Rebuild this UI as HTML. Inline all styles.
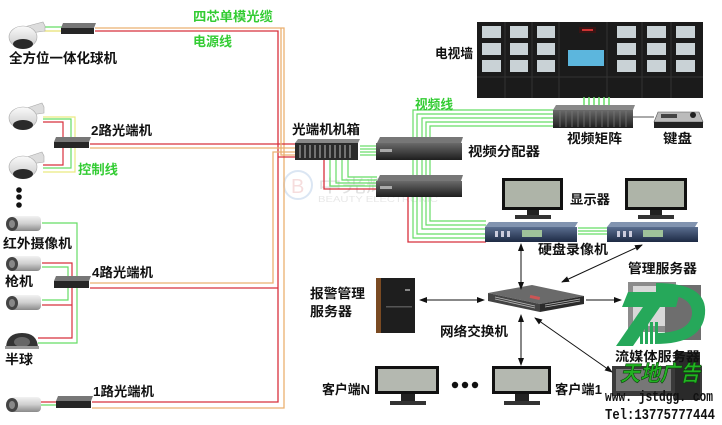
<!DOCTYPE html>
<html><head><meta charset="utf-8"><style>
html,body{margin:0;padding:0;background:#fff;}
svg{display:block;}
text{font-family:"Liberation Sans","Noto Sans CJK SC",sans-serif;font-weight:bold;}
</style></head><body>
<svg width="722" height="425" viewBox="0 0 722 425" xmlns="http://www.w3.org/2000/svg">
<defs>
<linearGradient id="dome" x1="0" y1="0" x2="0" y2="1"><stop offset="0" stop-color="#fafafa"/><stop offset="1" stop-color="#c8c8c8"/></linearGradient>
<linearGradient id="bul" x1="0" y1="0" x2="0" y2="1"><stop offset="0" stop-color="#f2f2f2"/><stop offset="0.5" stop-color="#cfcfcf"/><stop offset="1" stop-color="#8a8a8a"/></linearGradient>
<linearGradient id="box" x1="0" y1="0" x2="0" y2="1"><stop offset="0" stop-color="#6a6a6a"/><stop offset="1" stop-color="#1e1e1e"/></linearGradient>
<linearGradient id="dvr" x1="0" y1="0" x2="0" y2="1"><stop offset="0" stop-color="#5a6e90"/><stop offset="1" stop-color="#1d2a44"/></linearGradient>
<marker id="ah" markerWidth="8" markerHeight="6" refX="7" refY="3" orient="auto-start-reverse" markerUnits="userSpaceOnUse"><path d="M0,0 L8,3 L0,6 z" fill="#111"/></marker>
</defs>

<!-- watermark -->
<g opacity="0.35">
<circle cx="298" cy="185" r="14" fill="none" stroke="#9bb8dd" stroke-width="2"/>
<text x="291" y="193" font-size="20" fill="#e6a0a0" style="font-weight:normal">B</text>
<text x="318" y="192" font-size="17" fill="#aaa" textLength="120" lengthAdjust="spacingAndGlyphs" style="font-weight:normal">中光辉电子</text>
<text x="318" y="202" font-size="8" fill="#bbb" textLength="120" lengthAdjust="spacingAndGlyphs" style="font-weight:normal">BEAUTY ELECTRONIC</text>
</g>

<!-- trunk lines -->
<g fill="none" stroke-width="1.3">
<polyline points="95,28 284,28 284,408 92,408" stroke="#eab070"/>
<polyline points="95,31 278,31 278,402 92,402" stroke="#d8303c"/>
<polyline points="90,144 297,144" stroke="#d8303c"/>
<polyline points="90,148 297,148" stroke="#eab070"/>
<polyline points="90,283 273,283 273,152 297,152" stroke="#eab070"/>
<polyline points="90,288 278,288" stroke="#d8303c"/>
<polyline points="281,28 281,155 297,155" stroke="#eab070"/>
<polyline points="278,157 297,157" stroke="#d8303c"/>
</g>

<!-- left cable details -->
<g fill="none" stroke-width="1.2">
<!-- top dome -->
<line x1="44" y1="27" x2="62" y2="27" stroke="#66dd66"/>
<line x1="44" y1="31" x2="62" y2="31" stroke="#e8e070"/>
<!-- 2路 -->
<polyline points="43,117 75,117 75,172 43,172" stroke="#eaea80"/>
<polyline points="43,119 71,119 71,168 43,168" stroke="#66dd66"/>
<polyline points="43,122 63,122 63,139" stroke="#d8303c"/>
<polyline points="43,165 63,165 63,147" stroke="#d8303c"/>
<!-- 4路 -->
<polyline points="42,223 77,223 77,343 38,343" stroke="#66dd66"/>
<polyline points="42,267 68,267 68,300 42,300" stroke="#66dd66"/>
<polyline points="42,263 72,263 72,338 38,338" stroke="#d8303c"/>
<line x1="42" y1="305" x2="72" y2="305" stroke="#d8303c"/>
<!-- 1路 -->
<line x1="40" y1="402" x2="57" y2="402" stroke="#d8303c"/>
<line x1="40" y1="405" x2="57" y2="405" stroke="#66dd66"/>
</g>

<!-- center green/red -->
<g fill="none" stroke-width="1.2" stroke="#66dd66">
<line x1="360" y1="146" x2="376" y2="146"/>
<line x1="360" y1="149" x2="376" y2="149"/>
<line x1="360" y1="152" x2="376" y2="152"/>
<line x1="360" y1="155" x2="376" y2="155"/>
<polyline points="330,160 330,186 377,186"/>
<polyline points="336,160 336,183 377,183"/>
<polyline points="342,160 342,180 377,180"/>
<polyline points="348,160 348,177 377,177"/>
<polyline points="555,110 413,110 413,238 486,238"/>
<polyline points="555,114 417,114 417,234 486,234"/>
<polyline points="555,118 422,118 422,229 486,229"/>
<polyline points="555,122 426,122 426,225 486,225"/>
<polyline points="555,126 430,126 430,221 486,221"/>
<line x1="578" y1="228" x2="608" y2="228"/>
<line x1="578" y1="231" x2="608" y2="231"/>
<line x1="578" y1="234" x2="608" y2="234"/>
</g>
<g fill="none" stroke-width="1.3" stroke="#d8303c">
<polyline points="324,160 324,189 377,189"/>
<polyline points="408,197 408,242 486,242"/>
</g>

<!-- cameras -->
<!-- dome helper drawn inline -->
<g>
<path d="M24,27 L43,22 L45,26 L45,31 L30,33 Z" fill="#ddd" stroke="#aaa" stroke-width="0.6"/>
<ellipse cx="23" cy="37" rx="14" ry="11" fill="url(#dome)" stroke="#aaa" stroke-width="0.6"/>
<ellipse cx="23" cy="44" rx="10" ry="5" fill="#2a2a2a"/>
</g>
<g>
<path d="M24,109 L42,103 L44,107 L44,113 L30,115 Z" fill="#ddd" stroke="#aaa" stroke-width="0.6"/>
<ellipse cx="23" cy="118" rx="14" ry="11" fill="url(#dome)" stroke="#aaa" stroke-width="0.6"/>
<ellipse cx="23" cy="125" rx="10" ry="5" fill="#2a2a2a"/>
</g>
<g>
<path d="M24,158 L42,152 L44,156 L44,162 L30,164 Z" fill="#ddd" stroke="#aaa" stroke-width="0.6"/>
<ellipse cx="23" cy="167" rx="14" ry="11" fill="url(#dome)" stroke="#aaa" stroke-width="0.6"/>
<ellipse cx="23" cy="174" rx="10" ry="5" fill="#2a2a2a"/>
</g>
<circle cx="19" cy="190" r="2.8" fill="#111"/>
<circle cx="19" cy="197" r="2.8" fill="#111"/>
<circle cx="19" cy="205" r="2.8" fill="#111"/>

<!-- bullet cameras -->
<g>
<rect x="10" y="216" width="31" height="15" rx="4" fill="url(#bul)"/>
<ellipse cx="12" cy="224" rx="6" ry="7" fill="#444"/><ellipse cx="12" cy="224" rx="3" ry="4" fill="#888"/>
</g>
<g>
<rect x="10" y="256" width="31" height="15" rx="4" fill="url(#bul)"/>
<ellipse cx="12" cy="264" rx="6" ry="7" fill="#444"/><ellipse cx="12" cy="264" rx="3" ry="4" fill="#888"/>
</g>
<g>
<rect x="10" y="295" width="31" height="15" rx="4" fill="url(#bul)"/>
<ellipse cx="12" cy="303" rx="6" ry="7" fill="#444"/><ellipse cx="12" cy="303" rx="3" ry="4" fill="#888"/>
</g>
<g>
<path d="M6,347 Q7,333 22,333 Q37,333 38,347 Z" fill="#333"/>
<ellipse cx="22" cy="342" rx="8" ry="5" fill="#666"/>
<rect x="5" y="346" width="34" height="3" fill="#999"/>
</g>
<g>
<rect x="10" y="397" width="31" height="15" rx="4" fill="url(#bul)"/>
<ellipse cx="12" cy="405" rx="6" ry="7" fill="#444"/><ellipse cx="12" cy="405" rx="3" ry="4" fill="#888"/>
</g>

<!-- converters -->
<g>
<polygon points="63,23 96,23 94,28 61,28" fill="#777"/><rect x="61" y="28" width="33" height="6" fill="#262626"/>
<polygon points="56,137 91,137 89,142 54,142" fill="#777"/><rect x="54" y="142" width="35" height="6" fill="#262626"/>
<polygon points="56,276 91,276 89,281 54,281" fill="#777"/><rect x="54" y="281" width="35" height="7" fill="#262626"/>
<polygon points="58,396 93,396 91,401 56,401" fill="#777"/><rect x="56" y="401" width="35" height="7" fill="#262626"/>
</g>

<!-- chassis -->
<g>
<polygon points="298,139 360,139 358,143 295,143" fill="#888"/>
<rect x="295" y="143" width="63" height="17" fill="#2a2a2a"/>
<g stroke="#bbb" stroke-width="1">
<line x1="300" y1="145" x2="300" y2="158"/><line x1="305" y1="145" x2="305" y2="158"/><line x1="310" y1="145" x2="310" y2="158"/><line x1="315" y1="145" x2="315" y2="158"/><line x1="320" y1="145" x2="320" y2="158"/><line x1="325" y1="145" x2="325" y2="158"/><line x1="330" y1="145" x2="330" y2="158"/><line x1="335" y1="145" x2="335" y2="158"/><line x1="340" y1="145" x2="340" y2="158"/><line x1="345" y1="145" x2="345" y2="158"/><line x1="350" y1="145" x2="350" y2="158"/>
</g>
</g>

<!-- splitters -->
<g>
<polygon points="380,137 463,137 461,143 377,143" fill="#777"/>
<rect x="376" y="143" width="86" height="17" fill="url(#box)"/>
<rect x="380" y="149" width="12" height="3" fill="#aaa"/>
<polygon points="380,175 463,175 461,181 377,181" fill="#777"/>
<rect x="376" y="181" width="86" height="16" fill="url(#box)"/>
<rect x="380" y="186" width="12" height="3" fill="#aaa"/>
</g>

<!-- TV wall -->
<g>
<rect x="477" y="22" width="226" height="76" fill="#1b1b1b"/>
<g stroke="#333" stroke-width="1">
<line x1="505" y1="22" x2="505" y2="98"/><line x1="532" y1="22" x2="532" y2="98"/><line x1="559" y1="22" x2="559" y2="98"/><line x1="607" y1="22" x2="607" y2="98"/><line x1="642" y1="22" x2="642" y2="98"/><line x1="671" y1="22" x2="671" y2="98"/><line x1="477" y1="77" x2="703" y2="77"/>
</g>
<g fill="#c9d2d6">
<rect x="482" y="26" width="19" height="12"/><rect x="510" y="26" width="18" height="12"/><rect x="537" y="26" width="18" height="12"/>
<rect x="482" y="43" width="19" height="12"/><rect x="510" y="43" width="18" height="12"/><rect x="537" y="43" width="18" height="12"/>
<rect x="482" y="60" width="19" height="12"/><rect x="510" y="60" width="18" height="12"/><rect x="537" y="60" width="18" height="12"/>
<rect x="617" y="26" width="19" height="12"/><rect x="647" y="26" width="19" height="12"/><rect x="676" y="26" width="19" height="12"/>
<rect x="617" y="43" width="19" height="12"/><rect x="647" y="43" width="19" height="12"/><rect x="676" y="43" width="19" height="12"/>
<rect x="617" y="60" width="19" height="12"/><rect x="647" y="60" width="19" height="12"/><rect x="676" y="60" width="19" height="12"/>
</g>
<rect x="568" y="50" width="36" height="16" fill="#5cb6dd"/>
<rect x="579" y="27" width="17" height="6" fill="#3a1414"/>
<rect x="582" y="29" width="11" height="2" fill="#c33"/>
</g>

<!-- matrix -->
<g>
<g stroke="#66dd66" stroke-width="1.5">
<line x1="584" y1="97" x2="584" y2="106"/><line x1="589" y1="97" x2="589" y2="106"/><line x1="594" y1="97" x2="594" y2="106"/><line x1="599" y1="97" x2="599" y2="106"/><line x1="604" y1="97" x2="604" y2="106"/><line x1="609" y1="97" x2="609" y2="106"/>
</g>
<polygon points="556,105 635,105 633,110 553,110" fill="#888"/>
<rect x="553" y="110" width="80" height="18" fill="url(#box)"/>
<g stroke="#777" stroke-width="0.8">
<line x1="560" y1="111" x2="560" y2="127"/><line x1="566" y1="111" x2="566" y2="127"/><line x1="572" y1="111" x2="572" y2="127"/><line x1="578" y1="111" x2="578" y2="127"/><line x1="584" y1="111" x2="584" y2="127"/><line x1="590" y1="111" x2="590" y2="127"/><line x1="596" y1="111" x2="596" y2="127"/><line x1="602" y1="111" x2="602" y2="127"/><line x1="608" y1="111" x2="608" y2="127"/><line x1="614" y1="111" x2="614" y2="127"/><line x1="620" y1="111" x2="620" y2="127"/><line x1="626" y1="111" x2="626" y2="127"/>
</g>
<line x1="633" y1="117" x2="654" y2="117" stroke="#555" stroke-width="1"/>
<polygon points="658,112 699,112 703,122 654,122" fill="#bbb" stroke="#555" stroke-width="0.6"/>
<rect x="654" y="122" width="49" height="6" fill="#222"/>
<circle cx="693" cy="115" r="3" fill="#222"/>
<rect x="661" y="114" width="16" height="4" fill="#444"/>
</g>

<!-- monitors + DVRs -->
<g>
<rect x="502" y="178" width="61" height="32" fill="#111"/>
<rect x="505" y="181" width="55" height="26" fill="#aeb4a8"/>
<rect x="527" y="210" width="12" height="6" fill="#222"/>
<rect x="515" y="215" width="36" height="4" fill="#333"/>
<rect x="625" y="178" width="62" height="32" fill="#111"/>
<rect x="628" y="181" width="56" height="26" fill="#aeb4a8"/>
<rect x="650" y="210" width="12" height="6" fill="#222"/>
<rect x="638" y="215" width="36" height="4" fill="#333"/>
<polygon points="489,222 578,222 575,227 485,227" fill="#8294b0"/>
<rect x="485" y="227" width="92" height="15" fill="url(#dvr)"/>
<rect x="522" y="230" width="20" height="7" fill="#9fc29a"/>
<rect x="495" y="231" width="3" height="6" fill="#ccd"/><rect x="501" y="231" width="3" height="6" fill="#ccd"/><rect x="507" y="231" width="3" height="6" fill="#ccd"/>
<polygon points="611,222 698,222 695,227 607,227" fill="#8294b0"/>
<rect x="607" y="227" width="91" height="15" fill="url(#dvr)"/>
<rect x="643" y="230" width="20" height="7" fill="#9fc29a"/>
<rect x="617" y="231" width="3" height="6" fill="#ccd"/><rect x="623" y="231" width="3" height="6" fill="#ccd"/><rect x="629" y="231" width="3" height="6" fill="#ccd"/>
</g>

<!-- switch -->
<g>
<polygon points="488,293 532,285 584,296 540,304" fill="#6a6a6a"/>
<polygon points="540,304 584,296 584,304 540,312" fill="#2b2b2b"/>
<polygon points="488,293 540,304 540,312 488,301" fill="#444"/>
<g stroke="#bbb" stroke-width="0.8">
<line x1="495" y1="297" x2="535" y2="306"/><line x1="495" y1="299" x2="535" y2="308"/>
<line x1="545" y1="305" x2="580" y2="299"/><line x1="545" y1="307" x2="580" y2="301"/>
</g>
<rect x="530" y="296" width="10" height="3" fill="#c55" transform="rotate(12 535 297)"/>
</g>

<!-- alarm server -->
<g>
<rect x="376" y="278" width="39" height="55" fill="#1e1e1e"/>
<rect x="376" y="278" width="5" height="55" fill="#7a4a22"/>
<rect x="386" y="306" width="26" height="1.5" fill="#555"/>
<rect x="405" y="289" width="5" height="2" fill="#888"/>
</g>

<!-- clients -->
<g>
<rect x="375" y="366" width="64" height="28" fill="#111"/>
<rect x="378" y="369" width="58" height="22" fill="#b4b8b0"/>
<rect x="401" y="394" width="14" height="7" fill="#222"/>
<rect x="390" y="401" width="36" height="4" fill="#333"/>
<rect x="492" y="366" width="59" height="28" fill="#111"/>
<rect x="495" y="369" width="53" height="22" fill="#b4b8b0"/>
<rect x="515" y="394" width="14" height="7" fill="#222"/>
<rect x="504" y="401" width="36" height="4" fill="#333"/>
<circle cx="455" cy="385" r="3.2" fill="#111"/><circle cx="465" cy="385" r="3.2" fill="#111"/><circle cx="475" cy="385" r="3.2" fill="#111"/>
</g>

<!-- right servers (behind logo) -->
<g>
<rect x="628" y="282" width="48" height="50" fill="#8c8c8c"/>
<rect x="633" y="286" width="38" height="40" fill="#d8d8d8"/>
<rect x="665" y="285" width="36" height="55" fill="#6e6e6e"/>
<rect x="612" y="366" width="90" height="30" fill="#3a3a3a"/>
<rect x="616" y="369" width="55" height="22" fill="#777"/>
<rect x="675" y="352" width="25" height="48" fill="#2a2a2a"/>
</g>

<!-- TD logo -->
<g fill="#26a85a">
<path d="M656,283 Q708,283 705,314 Q702,344 655,344 L655,333 Q690,333 692,314 Q693,294 656,294 Z"/>
<polygon points="628,292 680,292 676,307 622,307"/>
<polygon points="643,307 660,307 633,346 616,346"/>
<rect x="640" y="322" width="3" height="22"/>
<rect x="645" y="322" width="3" height="22"/>
<rect x="650" y="322" width="3" height="22"/>
<rect x="655" y="322" width="3" height="18"/>
</g>

<!-- arrows -->
<g stroke="#111" stroke-width="1" fill="none">
<line x1="521" y1="244" x2="521" y2="289" marker-start="url(#ah)" marker-end="url(#ah)"/>
<line x1="642" y1="245" x2="562" y2="282" marker-start="url(#ah)" marker-end="url(#ah)"/>
<line x1="420" y1="300" x2="484" y2="300" marker-start="url(#ah)" marker-end="url(#ah)"/>
<line x1="586" y1="300" x2="621" y2="300" marker-end="url(#ah)"/>
<line x1="521" y1="315" x2="521" y2="365" marker-start="url(#ah)" marker-end="url(#ah)"/>
<line x1="535" y1="318" x2="612" y2="372" marker-start="url(#ah)" marker-end="url(#ah)"/>
</g>

<!-- labels -->
<g fill="#111">
<text x="9" y="63" font-size="13.5" textLength="108" lengthAdjust="spacingAndGlyphs">全方位一体化球机</text>
<text x="91" y="135" font-size="13" textLength="61" lengthAdjust="spacingAndGlyphs">2路光端机</text>
<text x="3" y="248" font-size="13" textLength="69" lengthAdjust="spacingAndGlyphs">红外摄像机</text>
<text x="5" y="286" font-size="13" textLength="28" lengthAdjust="spacingAndGlyphs">枪机</text>
<text x="92" y="277" font-size="13" textLength="61" lengthAdjust="spacingAndGlyphs">4路光端机</text>
<text x="5" y="364" font-size="13" textLength="28" lengthAdjust="spacingAndGlyphs">半球</text>
<text x="93" y="396" font-size="13" textLength="61" lengthAdjust="spacingAndGlyphs">1路光端机</text>
<text x="292" y="134" font-size="13" textLength="68" lengthAdjust="spacingAndGlyphs">光端机机箱</text>
<text x="468" y="156" font-size="13" textLength="72" lengthAdjust="spacingAndGlyphs">视频分配器</text>
<text x="435" y="58" font-size="13" textLength="38" lengthAdjust="spacingAndGlyphs">电视墙</text>
<text x="567" y="143" font-size="13" textLength="55" lengthAdjust="spacingAndGlyphs">视频矩阵</text>
<text x="663" y="143" font-size="13" textLength="29" lengthAdjust="spacingAndGlyphs">键盘</text>
<text x="570" y="204" font-size="13" textLength="40" lengthAdjust="spacingAndGlyphs">显示器</text>
<text x="538" y="254" font-size="13" textLength="70" lengthAdjust="spacingAndGlyphs">硬盘录像机</text>
<text x="628" y="273" font-size="13" textLength="69" lengthAdjust="spacingAndGlyphs">管理服务器</text>
<text x="310" y="298" font-size="13" textLength="55" lengthAdjust="spacingAndGlyphs">报警管理</text>
<text x="310" y="316" font-size="13" textLength="42" lengthAdjust="spacingAndGlyphs">服务器</text>
<text x="440" y="336" font-size="13" textLength="68" lengthAdjust="spacingAndGlyphs">网络交换机</text>
<text x="615" y="361" font-size="13" textLength="85" lengthAdjust="spacingAndGlyphs">流媒体服务器</text>
<text x="322" y="394" font-size="13" textLength="48" lengthAdjust="spacingAndGlyphs">客户端N</text>
<text x="555" y="394" font-size="13" textLength="47" lengthAdjust="spacingAndGlyphs">客户端1</text>
<text x="605" y="401" font-size="15" textLength="108" lengthAdjust="spacingAndGlyphs" style="font-family:'Liberation Mono',monospace">www. jstdgg. com</text>
<text x="605" y="419" font-size="15" textLength="110" lengthAdjust="spacingAndGlyphs" style="font-family:'Liberation Mono',monospace">Tel:13775777444</text>
</g>
<g fill="#33cc33">
<text x="193" y="21" font-size="13" textLength="80" lengthAdjust="spacingAndGlyphs">四芯单模光缆</text>
<text x="193" y="46" font-size="13" textLength="39" lengthAdjust="spacingAndGlyphs">电源线</text>
<text x="78" y="174" font-size="13" textLength="40" lengthAdjust="spacingAndGlyphs">控制线</text>
<text x="415" y="109" font-size="13" textLength="38" lengthAdjust="spacingAndGlyphs">视频线</text>
</g>
<text x="620" y="381" font-size="22" fill="#22b322" stroke="#0a400a" stroke-width="0.6" font-style="italic" textLength="80" lengthAdjust="spacingAndGlyphs">天地广告</text>
</svg>
</body></html>
